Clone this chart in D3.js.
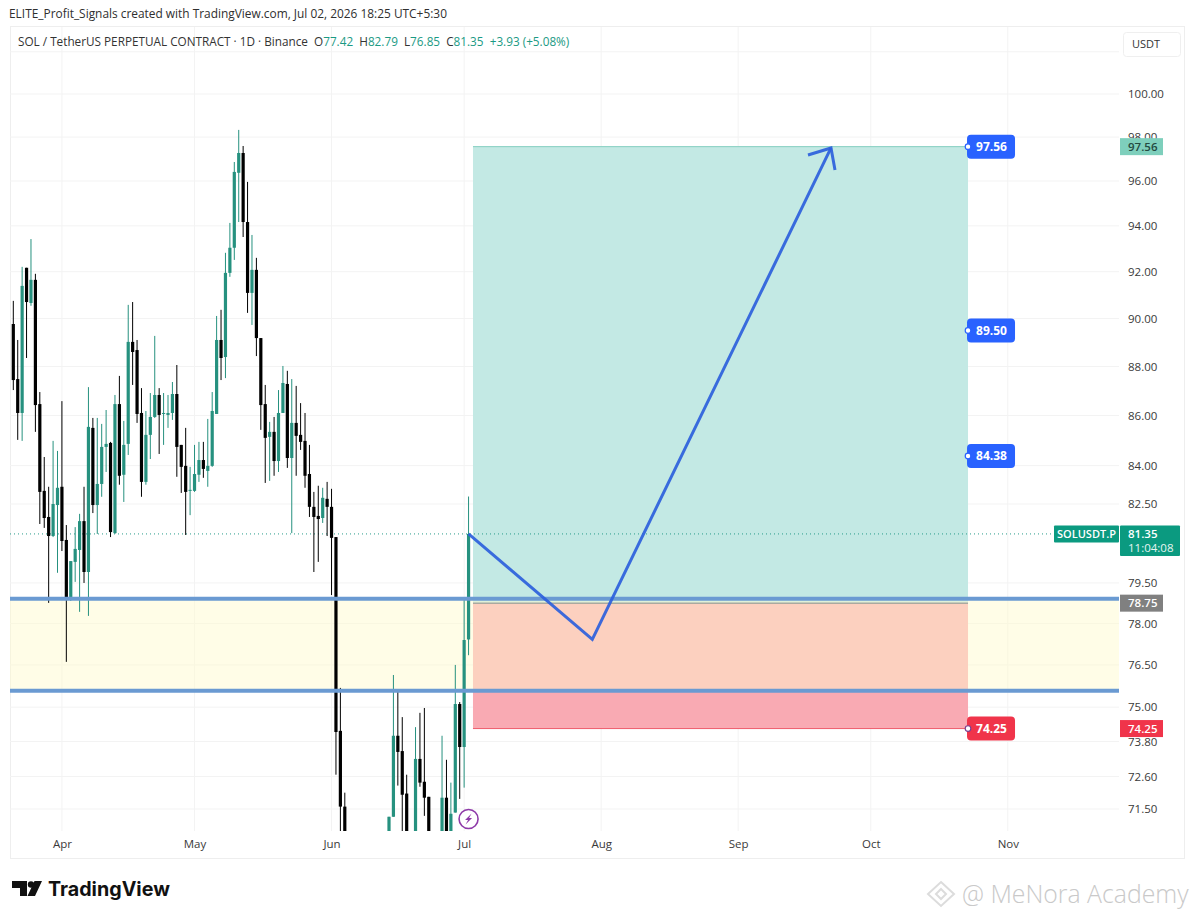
<!DOCTYPE html>
<html>
<head>
<meta charset="utf-8">
<script src="https://cdn.jsdelivr.net/npm/d3@7"></script>
<style>
  html, body { margin: 0; padding: 0; background: #fff; }
  svg { display: block; }
  text { font-family: "Open Sans", sans-serif; }
  .y-axis text, .x-axis text { font-family: "Open Sans", sans-serif; font-size: 11.5px; fill: #3a3a3a; }
</style>
</head>
<body>
<div id="chart"></div>
<script>
//daily candles, first one is Mar 21
//the ones under 70.7 are below the visible pane, so they are only estimates
var startDate = "2026-03-21";
var opens = [89.77,87.48,86.10,92.17,90.66,91.65,86.46,83.01,82.00,81.27,82.46,83.17,81.12,78.87,80.29,80.74,81.84,79.91,85.50,82.46,83.28,84.74,84.90,81.38,86.46,83.64,84.86,89.02,88.68,86.10,83.36,85.22,85.94,86.83,86.06,86.02,86.10,86.87,84.82,83.99,83.01,83.01,83.64,84.22,83.79,83.99,86.06,89.10,88.39,91.95,93.04,96.37,97.27,94.17,91.09,92.08,89.18,86.46,85.14,85.34,84.18,86.10,87.28,84.30,85.70,85.22,84.98,83.67,82.39,82.04,81.96,82.70,82.39,81.23,74.17,71.58,70.00,69.00,68.40,67.90,67.50,68.20,68.00,68.70,69.20,70.00,71.24,74.00,73.47,72.02,69.90,70.20,73.20,72.42,71.91,70.10,69.60,70.20,71.88,70.30,71.38,75.11,73.61,77.42];
var highs = [90.75,89.10,92.21,92.17,93.42,91.91,86.95,84.34,83.17,84.98,84.58,86.58,81.69,80.32,81.61,82.12,83.17,87.15,85.90,85.90,85.66,86.22,84.94,86.83,87.61,85.78,90.58,90.70,89.10,87.11,86.18,86.91,89.27,87.11,86.91,86.83,87.36,88.06,84.82,85.50,83.95,84.82,84.94,84.94,85.86,86.95,90.11,90.37,92.82,94.13,96.86,98.33,97.59,95.96,93.60,92.60,89.18,87.24,85.74,85.94,87.03,88.02,87.82,87.48,87.20,86.50,86.10,84.82,82.97,83.21,83.13,83.36,83.09,81.23,75.68,72.05,70.40,70.00,69.20,68.50,68.60,69.00,69.30,69.60,70.30,71.24,76.14,75.61,74.65,72.66,70.50,74.30,74.80,74.97,71.91,70.60,70.40,74.00,73.17,72.39,76.50,75.18,78.95,82.79];
var lows = [87.03,85.02,84.98,88.35,90.54,85.34,81.73,81.58,78.76,81.23,79.88,80.70,76.61,78.83,79.54,78.43,79.50,78.28,82.15,81.35,82.78,83.75,81.23,81.35,83.25,82.58,84.42,87.24,85.70,82.78,83.25,84.26,85.90,84.46,84.82,85.50,85.82,83.56,82.93,81.31,82.07,82.97,83.36,83.52,83.17,83.95,86.06,87.44,87.52,91.78,92.51,94.17,93.51,90.24,89.73,88.43,85.42,83.32,83.40,83.60,83.75,86.10,83.91,81.38,83.60,84.62,83.13,82.00,79.91,80.29,81.77,81.27,79.05,72.66,70.60,69.50,68.50,67.80,67.20,66.90,67.10,67.40,67.60,68.10,68.80,69.50,71.24,72.29,70.50,69.80,69.20,69.50,72.25,71.27,69.60,69.20,69.00,69.80,69.50,70.00,71.38,71.84,72.22,76.85];
var closes = [87.44,86.10,91.39,90.70,91.65,86.42,82.97,81.96,81.27,82.50,83.13,81.08,78.87,80.32,80.78,81.84,79.91,85.54,82.46,83.28,84.74,84.86,81.42,86.46,83.60,84.82,89.02,88.60,86.06,83.36,85.22,85.94,86.83,86.02,86.10,86.10,86.87,84.74,83.95,82.97,83.05,83.67,84.22,83.87,83.99,86.18,89.10,88.35,91.95,93.04,96.41,97.27,94.17,91.09,92.08,89.18,86.42,85.10,85.34,84.18,86.10,87.32,84.30,85.70,85.18,84.94,83.60,82.39,82.00,81.92,82.74,82.39,81.20,74.13,71.58,70.00,69.00,68.40,67.90,67.50,68.20,68.00,68.70,69.20,70.00,71.24,74.00,73.44,71.98,70.30,70.30,73.20,72.39,71.88,70.20,69.90,70.10,71.88,70.00,71.34,75.11,73.61,77.40,81.35];

//axis ticks
var priceTicks = [100, 98, 96, 94, 92, 90, 88, 86, 84, 82.5, 79.5, 78, 76.5, 75, 73.8, 72.6, 71.5];
var hiddenGridPrices = [102];
var monthTicks = ["2026-04-01", "2026-05-01", "2026-06-01", "2026-07-01", "2026-08-01", "2026-09-01", "2026-10-01", "2026-11-01"];

//drawings on the chart
var lastPrice = 81.35, targetPrice = 97.56, entryPrice = 78.75, stopPrice = 74.25;
var midTargets = [89.50, 84.38];
var toolDates = ["2026-07-03", "2026-10-23"];
var zonePrices = [78.91, 75.58];
var arrowDates = ["2026-07-02", "2026-07-30", "2026-09-22"];
var arrowPrices = [81.35, 77.42, 97.50];

var fullWidth = 1195, fullHeight = 919;
var pane = {left: 10, right: 1119, top: 27, bottom: 831};
var green = "#26917f", black = "#000", blue = "#2c5fdc";

var parseDay = d3.utcParse("%Y-%m-%d");
var candles = opens.map(function(o, i) {
  return {date: d3.utcDay.offset(parseDay(startDate), i), open: o, high: highs[i], low: lows[i], close: closes[i]};
});

//time scale, one day is about 4.42px
var x = d3.scaleUtc()
  .domain([parseDay(startDate), parseDay("2026-11-01")])
  .range([13.3, 1007.8]);

//price axis is logarithmic
var y = d3.scaleLog()
  .domain([100, 71.5])
  .range([94, 809]);

var svg = d3.select("#chart").append("svg")
  .attr("width", fullWidth)
  .attr("height", fullHeight)
  .attr("viewBox", "0 0 " + fullWidth + " " + fullHeight);

svg.append("rect").attr("width", fullWidth).attr("height", fullHeight).attr("fill", "#fff");

//outer frame
svg.append("rect")
  .attr("x", 10.5).attr("y", 26.5)
  .attr("width", 1174).attr("height", 832)
  .attr("fill", "none").attr("stroke", "#eeeeee");

svg.append("clipPath").attr("id", "pane")
  .append("rect")
  .attr("x", pane.left).attr("y", pane.top)
  .attr("width", pane.right - pane.left).attr("height", pane.bottom - pane.top);

var plot = svg.append("g").attr("clip-path", "url(#pane)");

//grid
plot.append("g").selectAll("line")
  .data(priceTicks.concat(hiddenGridPrices))
  .join("line")
  .attr("x1", pane.left).attr("x2", pane.right)
  .attr("y1", function(d) { return y(d); })
  .attr("y2", function(d) { return y(d); })
  .attr("stroke", "#f3f3f3");

plot.append("g").selectAll("line")
  .data(monthTicks)
  .join("line")
  .attr("x1", function(d) { return x(parseDay(d)); })
  .attr("x2", function(d) { return x(parseDay(d)); })
  .attr("y1", pane.top).attr("y2", pane.bottom)
  .attr("stroke", "#f3f3f3");

//long position tool
var toolLeft = x(parseDay(toolDates[0])), toolRight = x(parseDay(toolDates[1]));

plot.append("rect")
  .attr("x", toolLeft).attr("width", toolRight - toolLeft)
  .attr("y", y(targetPrice)).attr("height", y(entryPrice) - y(targetPrice))
  .attr("fill", "#c3e9e4");

plot.append("rect")
  .attr("x", toolLeft).attr("width", toolRight - toolLeft)
  .attr("y", y(entryPrice)).attr("height", y(stopPrice) - y(entryPrice))
  .attr("fill", "#f9aab3");

plot.append("line")
  .attr("x1", toolLeft).attr("x2", toolRight)
  .attr("y1", y(targetPrice)).attr("y2", y(targetPrice))
  .attr("stroke", "#84cfc0");

plot.append("line")
  .attr("x1", toolLeft).attr("x2", toolRight)
  .attr("y1", y(stopPrice)).attr("y2", y(stopPrice))
  .attr("stroke", "#ee5c6b");

//yellow zone sits over the tool, that gives the orange part
plot.append("rect")
  .attr("x", pane.left).attr("width", pane.right - pane.left)
  .attr("y", y(zonePrices[0])).attr("height", y(zonePrices[1]) - y(zonePrices[0]))
  .attr("fill", "rgb(255,250,205)").attr("fill-opacity", 0.47);

plot.append("line")
  .attr("x1", toolLeft).attr("x2", toolRight)
  .attr("y1", y(entryPrice)).attr("y2", y(entryPrice))
  .attr("stroke", "#a9a9a0").attr("stroke-width", 1.5);

//last price line
plot.append("line")
  .attr("x1", pane.left).attr("x2", 1054)
  .attr("y1", y(lastPrice)).attr("y2", y(lastPrice))
  .attr("stroke", "#2a9d8b").attr("stroke-width", 1).attr("stroke-dasharray", "1 3");

//candles
var candle = plot.append("g").selectAll("g")
  .data(candles)
  .join("g")
  .attr("fill", function(d) { return d.close >= d.open ? green : black; })
  .attr("stroke", function(d) { return d.close >= d.open ? green : black; });

candle.append("line")
  .attr("x1", function(d) { return x(d.date); })
  .attr("x2", function(d) { return x(d.date); })
  .attr("y1", function(d) { return y(d.high); })
  .attr("y2", function(d) { return y(d.low); })
  .attr("stroke-width", 1);

candle.append("rect")
  .attr("x", function(d) { return x(d.date) - 1.6; })
  .attr("width", 3.2)
  .attr("y", function(d) { return y(Math.max(d.open, d.close)); })
  .attr("height", function(d) { return Math.max(1, Math.abs(y(d.open) - y(d.close))); })
  .attr("stroke", "none");

//zone borders
plot.append("g").selectAll("line")
  .data(zonePrices)
  .join("line")
  .attr("x1", pane.left).attr("x2", pane.right)
  .attr("y1", function(d) { return y(d); })
  .attr("y2", function(d) { return y(d); })
  .attr("stroke", "#6a9ad2").attr("stroke-width", 4);

//forecast arrow
var arrowLine = d3.line()
  .x(function(d) { return x(parseDay(d[0])); })
  .y(function(d) { return y(d[1]); });

plot.append("path")
  .attr("d", arrowLine(d3.zip(arrowDates, arrowPrices)))
  .attr("fill", "none").attr("stroke", blue).attr("stroke-opacity", 0.92)
  .attr("stroke-width", 3).attr("stroke-linejoin", "miter");

var tipX = x(parseDay(arrowDates[2])), tipY = y(arrowPrices[2]);
plot.append("path")
  .attr("d", "M" + (tipX - 23) + "," + (tipY + 7) + "L" + tipX + "," + tipY + "L" + (tipX + 4) + "," + (tipY + 22))
  .attr("fill", "none").attr("stroke", blue).attr("stroke-opacity", 0.92).attr("stroke-width", 3);

//axes
var yAxis = svg.append("g")
  .attr("class", "y-axis")
  .attr("transform", "translate(" + pane.right + ",0)")
  .call(d3.axisRight(y).tickValues(priceTicks).tickFormat(d3.format(".2f")).tickSize(0).tickPadding(9));
yAxis.select(".domain").remove();

var xAxis = svg.append("g")
  .attr("class", "x-axis")
  .attr("transform", "translate(0," + pane.bottom + ")")
  .call(d3.axisBottom(x).tickValues(monthTicks.map(parseDay)).tickFormat(d3.utcFormat("%b")).tickSize(0).tickPadding(9));
xAxis.select(".domain").remove();

//blue and red badges at the right end of the tool
function badge(price, color) {
  var cy = y(price);
  svg.append("rect")
    .attr("x", toolRight - 1).attr("y", cy - 12)
    .attr("width", 48).attr("height", 24).attr("rx", 4)
    .attr("fill", color);
  svg.append("circle")
    .attr("cx", toolRight).attr("cy", cy).attr("r", 2.8)
    .attr("fill", "#fff").attr("stroke", color === "#2962ff" ? "#2962ff" : "#7c3f8f").attr("stroke-width", 1.2);
  svg.append("text")
    .attr("x", toolRight + 8).attr("y", cy + 4.5)
    .attr("fill", "#fff").attr("font-size", 12).attr("font-weight", 700)
    .text(price.toFixed(2));
}
[targetPrice].concat(midTargets).forEach(function(p) { badge(p, "#2962ff"); });
badge(stopPrice, "#f0344a");

//tags on the price axis
function axisTag(price, fill, color) {
  var cy = y(price);
  svg.append("rect")
    .attr("x", pane.right + 1).attr("y", cy - 8.5)
    .attr("width", 43).attr("height", 17)
    .attr("fill", fill);
  svg.append("text")
    .attr("x", pane.right + 9).attr("y", cy + 4)
    .attr("fill", color).attr("font-size", 11.5).attr("font-weight", 600)
    .text(price.toFixed(2));
}
axisTag(targetPrice, "#7ecfbc", "#244a42");
axisTag(entryPrice, "#808080", "#fff");
axisTag(stopPrice, "#f0344a", "#fff");

//symbol and countdown tags
var lastY = y(lastPrice);
svg.append("rect").attr("x", 1054).attr("y", lastY - 8.5).attr("width", 65).attr("height", 17).attr("rx", 1).attr("fill", "#0b9a80");
svg.append("text").attr("x", 1057).attr("y", lastY + 4).attr("fill", "#fff").attr("font-size", 11).attr("font-weight", 600).text("SOLUSDT.P");
svg.append("rect").attr("x", pane.right + 1).attr("y", lastY - 8.5).attr("width", 60).attr("height", 30.5).attr("rx", 1).attr("fill", "#0b9a80");
svg.append("text").attr("x", pane.right + 9).attr("y", lastY + 4).attr("fill", "#fff").attr("font-size", 11.5).attr("font-weight", 600).text(lastPrice.toFixed(2));
svg.append("text").attr("x", pane.right + 9).attr("y", lastY + 18).attr("fill", "#e6f5f1").attr("font-size", 11.5).text("11:04:08");

//USDT button
svg.append("rect").attr("x", 1123.5).attr("y", 32.5).attr("width", 57).attr("height", 24).attr("rx", 3).attr("fill", "#fff").attr("stroke", "#efefef");
svg.append("text").attr("x", 1132).attr("y", 48).attr("fill", "#333").attr("font-size", 11).text("USDT");

//earnings style marker under the last candle
var boltX = x(candles[candles.length - 1].date);
svg.append("circle").attr("cx", boltX).attr("cy", 819).attr("r", 9.5).attr("fill", "#fff").attr("stroke", "#8e3aa8").attr("stroke-width", 1.6);
svg.append("path")
  .attr("d", "M" + (boltX + 3) + ",813.5L" + (boltX - 3.5) + ",820L" + (boltX - 0.5) + ",820L" + (boltX - 3) + ",824.5L" + (boltX + 3.5) + ",818L" + (boltX + 0.5) + ",818Z")
  .attr("fill", "#8e3aa8");

//header lines
svg.append("text").attr("x", 9).attr("y", 18).attr("fill", "#2f2f2f").attr("font-size", 11.9)
  .text("ELITE_Profit_Signals created with TradingView.com, Jul 02, 2026 18:25 UTC+5:30");

var legendParts = [["SOL / TetherUS PERPETUAL CONTRACT · 1D · Binance  ", "#333"], ["O", "#333"], ["77.42 ", "#1b9a84"], [" H", "#333"], ["82.79 ", "#1b9a84"], [" L", "#333"], ["76.85 ", "#1b9a84"], [" C", "#333"], ["81.35 ", "#1b9a84"], [" +3.93 (+5.08%)", "#1b9a84"]];
svg.append("text").attr("x", 18).attr("y", 46).attr("font-size", 11.75).attr("xml:space", "preserve")
  .style("white-space", "pre")
  .selectAll("tspan")
  .data(legendParts)
  .join("tspan")
  .attr("fill", function(d) { return d[1]; })
  .text(function(d) { return d[0]; });

//TradingView logo
svg.append("path")
  .attr("d", "M12,881H27V896H20V888H12ZM42,881L35,896H27.5L34.5,881Z")
  .attr("fill", "#111");
svg.append("circle").attr("cx", 31).attr("cy", 884.5).attr("r", 3.2).attr("fill", "#111");
svg.append("text").attr("x", 48).attr("y", 896).attr("fill", "#111").attr("font-size", 19.7).attr("font-weight", 700)
  .style("font-family", "Inter, sans-serif").text("TradingView");

//watermark
var mark = svg.append("g").attr("fill", "none").attr("stroke", "#dcdcdc").attr("stroke-width", 2);
mark.append("path").attr("d", "M941,882L954,894L941,906L928,894Z");
mark.append("path").attr("d", "M941,889L946,894L941,899L936,894Z");
svg.append("text").attr("x", 962).attr("y", 903).attr("fill", "#c9c9c9").attr("font-size", 24.8).attr("font-weight", 300)
  .text("@ MeNora Academy");
</script>
</body>
</html>
